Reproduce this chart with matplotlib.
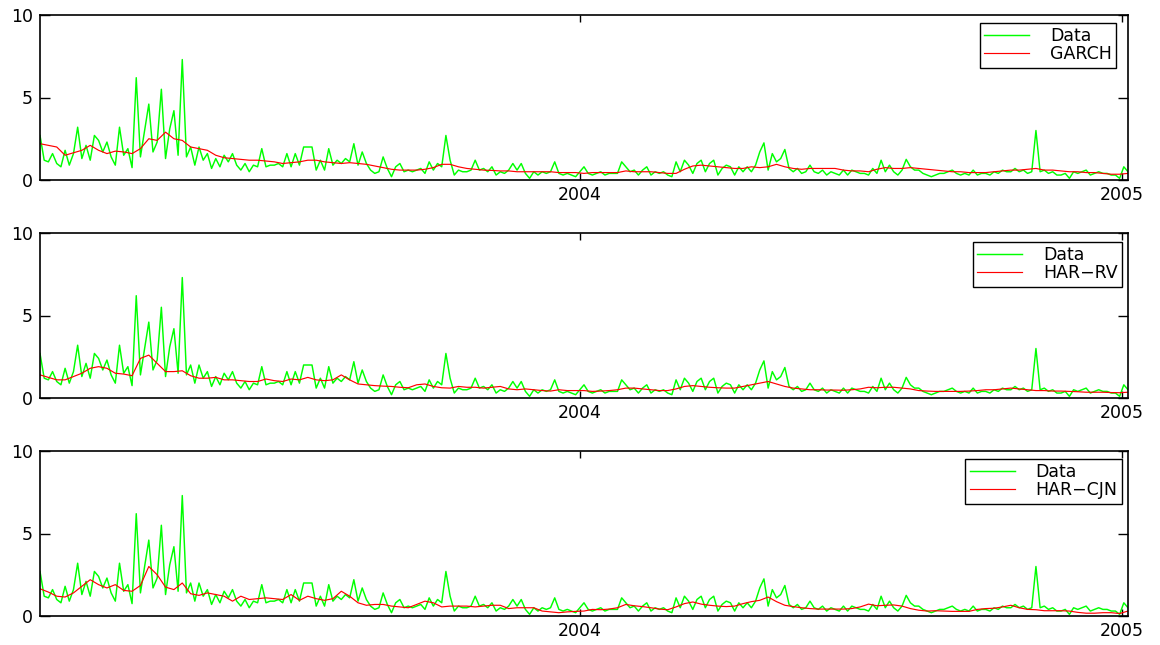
import numpy as np
import pandas as pd
import matplotlib
matplotlib.use("Agg")
import matplotlib.pyplot as plt

plt.rcParams['font.family'] = ['DejaVu Sans']

# ---- data ----
start_date = "2003-01-02"
end_date = "2005-01-05"

data_vals = [
    2.7, 1.2, 1.1, 1.6, 1.0, 0.8, 1.8, 0.9, 1.6, 3.2,
    1.3, 2.1, 1.2, 2.7, 2.4, 1.7, 2.3, 1.4, 0.9, 3.2,
    1.5, 1.9, 0.75, 6.2, 1.4, 3.0, 4.6, 1.7, 2.3, 5.5,
    1.3, 3.1, 4.2, 1.5, 7.3, 1.4, 2.0, 0.9, 2.0, 1.2,
    1.6, 0.7, 1.3, 0.8, 1.5, 1.1, 1.6, 0.9, 0.6, 1.0,
    0.5, 0.9, 0.8, 1.9, 0.8, 0.9, 0.9, 1.0, 0.8, 1.6,
    0.8, 1.6, 0.9, 2.0, 2.0, 2.0, 0.6, 1.2, 0.6, 1.9,
    0.9, 1.2, 1.0, 1.3, 1.1, 2.2, 0.9, 1.7, 1.0, 0.6,
    0.4, 0.5, 1.4, 0.7, 0.2, 0.8, 1.0, 0.5, 0.6, 0.5,
    0.6, 0.7, 0.4, 1.1, 0.6, 1.0, 0.8, 2.7, 1.2, 0.3,
    0.6, 0.5, 0.5, 0.6, 1.2, 0.6, 0.7, 0.5, 0.8, 0.3,
    0.5, 0.4, 0.6, 1.0, 0.6, 1.0, 0.4, 0.1, 0.5, 0.3,
    0.5, 0.4, 0.5, 1.1, 0.4, 0.3, 0.4, 0.3, 0.2, 0.5,
    0.8, 0.4, 0.3, 0.4, 0.5, 0.3, 0.4, 0.4, 0.4, 1.1,
    0.8, 0.5, 0.6, 0.3, 0.6, 0.8, 0.3, 0.5, 0.4, 0.5,
    0.3, 0.2, 1.1, 0.5, 1.2, 0.9, 0.4, 1.0, 1.2, 0.5,
    1.0, 1.2, 0.3, 0.7, 0.9, 0.8, 0.3, 0.8, 0.5, 0.8,
    0.5, 0.9, 1.7, 2.25, 0.6, 1.6, 1.1, 1.3, 1.85, 0.7,
    0.5, 0.7, 0.4, 0.5, 0.9, 0.5, 0.4, 0.6, 0.3, 0.5,
    0.4, 0.3, 0.6, 0.3, 0.6, 0.5, 0.4, 0.4, 0.3, 0.7,
    0.4, 1.2, 0.5, 0.9, 0.5, 0.3, 0.6, 1.25, 0.8, 0.6,
    0.6, 0.4, 0.3, 0.2, 0.3, 0.4, 0.4, 0.5, 0.6, 0.4,
    0.3, 0.4, 0.3, 0.6, 0.3, 0.4, 0.4, 0.3, 0.5, 0.4,
    0.6, 0.5, 0.5, 0.7, 0.5, 0.6, 0.4, 0.5, 3.0, 0.5,
    0.6, 0.4, 0.5, 0.3, 0.3, 0.4, 0.1, 0.5, 0.4, 0.5,
    0.6, 0.3, 0.4, 0.5, 0.4, 0.4, 0.3, 0.3, 0.1, 0.8,
    0.5,
]

garch_vals = [
    2.2, 2.1, 2.0, 1.5, 1.65, 1.8, 2.1, 1.8, 1.6, 1.75,
    1.7, 1.6, 1.9, 2.5, 2.4, 2.9, 2.5, 2.4, 2.0, 1.9,
    1.8, 1.5, 1.35, 1.3, 1.25, 1.2, 1.2, 1.15, 1.1, 1.0,
    1.05, 1.1, 1.2, 1.2, 1.1, 1.05, 1.0, 1.05, 1.0, 0.95,
    0.85, 0.75, 0.65, 0.6, 0.6, 0.6, 0.65, 0.75, 0.95, 0.95,
    0.8, 0.7, 0.65, 0.6, 0.58, 0.55, 0.55, 0.5, 0.5, 0.5,
    0.5, 0.5, 0.45, 0.45, 0.45, 0.4, 0.45, 0.45, 0.45, 0.45,
    0.55, 0.5, 0.5, 0.5, 0.45, 0.4, 0.4, 0.65, 0.85, 0.9,
    0.85, 0.8, 0.75, 0.7, 0.7, 0.8, 0.75, 0.8, 0.95, 0.8,
    0.7, 0.65, 0.7, 0.7, 0.7, 0.7, 0.6, 0.55, 0.55, 0.5,
    0.65, 0.75, 0.7, 0.7, 0.75, 0.7, 0.65, 0.6, 0.55, 0.5,
    0.5, 0.45, 0.45, 0.45, 0.5, 0.55, 0.6, 0.6, 0.65, 0.7,
    0.6, 0.6, 0.55, 0.5, 0.5, 0.45, 0.45, 0.4, 0.35, 0.35,
    0.4,
]

harrv_vals = [
    1.4, 1.25, 1.1, 1.1, 1.3, 1.5, 1.8, 1.9, 1.8, 1.5,
    1.45, 1.35, 2.4, 2.6, 2.1, 1.6, 1.6, 1.65, 1.35, 1.2,
    1.2, 1.25, 1.1, 1.1, 1.05, 1.0, 1.0, 1.15, 1.05, 1.0,
    1.15, 1.1, 1.25, 1.1, 1.05, 1.1, 1.4, 1.1, 0.85, 0.8,
    0.75, 0.72, 0.7, 0.65, 0.62, 0.8, 0.85, 0.7, 0.62, 0.6,
    0.7, 0.65, 0.65, 0.6, 0.65, 0.7, 0.55, 0.5, 0.55, 0.5,
    0.45, 0.42, 0.5, 0.45, 0.45, 0.45, 0.4, 0.42, 0.45, 0.5,
    0.6, 0.6, 0.55, 0.5, 0.45, 0.45, 0.55, 0.7, 0.75, 0.7,
    0.65, 0.62, 0.6, 0.6, 0.7, 0.8, 0.9, 1.0, 0.85, 0.7,
    0.6, 0.55, 0.5, 0.5, 0.48, 0.48, 0.47, 0.5, 0.55, 0.65,
    0.62, 0.65, 0.65, 0.6, 0.55, 0.45, 0.42, 0.4, 0.4, 0.4,
    0.4, 0.42, 0.45, 0.5, 0.5, 0.55, 0.6, 0.55, 0.5, 0.45,
    0.45, 0.42, 0.42, 0.4, 0.38, 0.35, 0.35, 0.35, 0.33, 0.32,
    0.35,
]

harcjn_vals = [
    1.65, 1.45, 1.2, 1.15, 1.4, 1.8, 2.2, 1.9, 1.7, 1.9,
    1.55, 1.5, 1.85, 3.0, 2.5, 1.75, 1.6, 2.0, 1.35, 1.25,
    1.4, 1.3, 1.2, 0.9, 1.2, 1.0, 1.05, 1.1, 1.05, 1.0,
    1.3, 0.95, 1.2, 1.05, 0.95, 1.05, 1.5, 1.2, 0.8, 0.65,
    0.7, 0.7, 0.6, 0.55, 0.5, 0.7, 0.9, 0.8, 0.55, 0.6,
    0.6, 0.6, 0.55, 0.6, 0.65, 0.65, 0.45, 0.5, 0.5, 0.5,
    0.3, 0.25, 0.2, 0.25, 0.28, 0.3, 0.4, 0.38, 0.42, 0.5,
    0.7, 0.62, 0.57, 0.5, 0.42, 0.38, 0.55, 0.75, 0.85, 0.72,
    0.65, 0.6, 0.57, 0.6, 0.75, 0.87, 0.95, 1.15, 0.87, 0.65,
    0.57, 0.5, 0.45, 0.42, 0.42, 0.42, 0.42, 0.45, 0.55, 0.72,
    0.62, 0.65, 0.67, 0.6, 0.45, 0.35, 0.3, 0.32, 0.3, 0.28,
    0.28, 0.28, 0.4, 0.45, 0.47, 0.55, 0.65, 0.5, 0.4, 0.38,
    0.32, 0.32, 0.32, 0.3, 0.22, 0.17, 0.17, 0.2, 0.2, 0.15,
    0.3,
]

model_names = ["GARCH", "HAR\u2212RV", "HAR\u2212CJN"]
model_vals = [garch_vals, harrv_vals, harcjn_vals]
year_ticks = ["2004-01-01", "2005-01-01"]
year_labels = ["2004", "2005"]
y_ticks = [0, 5, 10]

# ---- figure ----
W, H = 1160, 645
fig = plt.figure(figsize=(W / 100, H / 100), dpi=100)

x0, x1 = 40, 1128
panel_tb = [(15, 180), (233, 398), (451, 616)]
legend_anchor = [(0.989, 0.952), (0.9945, 0.945), (0.9945, 0.952)]

data_dates = pd.date_range(start_date, end_date, periods=len(data_vals))

for k, (top, bot) in enumerate(panel_tb):
    ax = fig.add_axes([x0 / W, 1 - bot / H, (x1 - x0) / W, (bot - top) / H])
    mvals = model_vals[k]
    m_dates = pd.date_range(start_date, end_date, periods=len(mvals))
    ax.plot(data_dates, data_vals, color=(0, 1, 0), lw=1.05, label="Data")
    ax.plot(m_dates, mvals, color=(1, 0, 0), lw=0.85, label=model_names[k])
    ax.set_xlim(pd.Timestamp(start_date), pd.Timestamp(end_date))
    ax.set_ylim(0, 10)
    ax.set_yticks(y_ticks)
    ax.set_yticklabels([str(v) for v in y_ticks])
    ax.set_xticks([pd.Timestamp(d) for d in year_ticks])
    ax.set_xticklabels(year_labels)
    ax.tick_params(direction="in", width=1.0, top=True, right=True,
                   labelsize=12.5, colors="black")
    ax.tick_params(axis="y", pad=5, length=7)
    ax.tick_params(axis="x", pad=4, length=5)
    for s in ax.spines.values():
        s.set_linewidth(1.2)
        s.set_color("black")
    leg = ax.legend(loc="upper right", bbox_to_anchor=legend_anchor[k],
                    borderaxespad=0, fancybox=False, framealpha=1,
                    edgecolor="black", fontsize=12.5, handlelength=2.6,
                    handletextpad=1.2, labelspacing=0.0, borderpad=0.25)
    leg.get_frame().set_linewidth(1.0)

fig.savefig("out.png", dpi=100)
